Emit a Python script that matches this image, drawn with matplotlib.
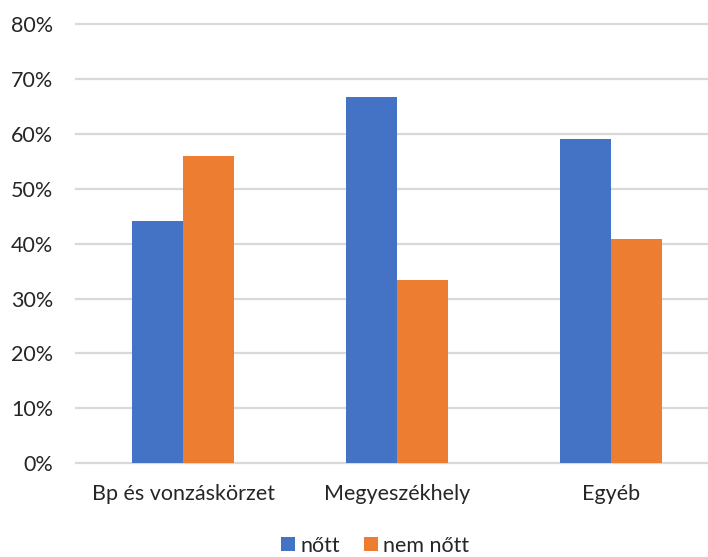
import matplotlib
matplotlib.use("Agg")
import matplotlib.pyplot as plt
import numpy as np
from matplotlib.patches import Patch
from matplotlib.ticker import PercentFormatter

categories = ["Bp és vonzáskörzet", "Megyeszékhely", "Egyéb"]
series_names = ["nőtt", "nem nőtt"]
nott = [0.441, 0.667, 0.591]
nem_nott = [0.559, 0.333, 0.409]
y_ticks = [0.0, 0.1, 0.2, 0.3, 0.4, 0.5, 0.6, 0.7, 0.8]

BLUE = "#4472C4"
ORANGE = "#ED7D31"
GRID = "#D9D9D9"
TEXT = "#262626"
FS = 15.5

plt.rcParams["font.family"] = ["Lato", "DejaVu Sans"]

fig = plt.figure(figsize=(7.08, 5.57), dpi=100)
ax = fig.add_axes([76 / 708, 93.7 / 557, 642 / 708, 439.3 / 557])

x = np.arange(len(categories))
w = 0.238
ax.bar(x - w / 2, nott, width=w, color=BLUE, zorder=3)
ax.bar(x + w / 2, nem_nott, width=w, color=ORANGE, zorder=3)

ax.set_xlim(-0.5, len(categories) - 0.5)
ax.set_ylim(0, 0.8)
ax.set_yticks(y_ticks)
ax.yaxis.set_major_formatter(PercentFormatter(1.0, decimals=0))
ax.set_xticks(x)
ax.set_xticklabels(categories)

for s in ax.spines.values():
    s.set_visible(False)
ax.tick_params(axis="both", length=0, labelsize=FS, colors=TEXT)
ax.tick_params(axis="y", pad=16.5)
ax.tick_params(axis="x", pad=15)

for yv in y_ticks:
    ax.axhline(yv, color=GRID, lw=1.6, zorder=1, clip_on=False)

handles = [Patch(facecolor=BLUE, edgecolor="none"), Patch(facecolor=ORANGE, edgecolor="none")]
fig.legend(handles, series_names, loc="center", bbox_to_anchor=(375 / 708, 1 - 545.5 / 557),
           ncol=2, frameon=False, fontsize=FS, handlelength=0.65, handleheight=0.65,
           handletextpad=0.25, columnspacing=1.1, labelcolor=TEXT,
           borderpad=0.2)

fig.savefig("out.png", dpi=100)
